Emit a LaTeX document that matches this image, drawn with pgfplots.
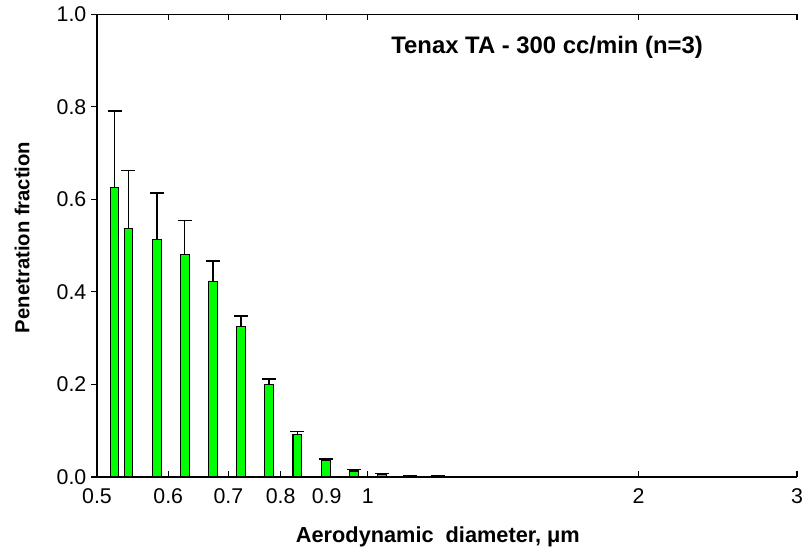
\documentclass[border=0pt]{standalone}
\usepackage{fontspec}
\setmainfont{Liberation Sans}
\usepackage{pgfplots}
\pgfplotsset{compat=1.18}
\begin{document}
\begin{tikzpicture}
% 1px = 0.75pt, page 810x556 px
\useasboundingbox (0,0) rectangle (607.5pt,417pt);
\begin{axis}[
    at={(72.75pt,59.25pt)}, anchor=south west,
    scale only axis, width=525pt, height=347pt,
    xmode=log, xmin=0.5, xmax=3,
    ymin=0, ymax=1,
    axis y line*=left, axis x line*=box,
    xtick={0.5,0.6,0.7,0.8,0.9,1,2,3},
    xticklabels={0.5,0.6,0.7,0.8,0.9,1,2,3},
    minor xtick={},
    ytick={0,0.2,0.4,0.6,0.8,1},
    yticklabel style={/pgf/number format/.cd, fixed, fixed zerofill, precision=1},
    /pgf/number format/assume math mode=true,
    xtick pos=both, ytick pos=left,
    xtick align=inside, ytick align=outside,
    major tick length=4.5pt,
    tick style={black, line width=0.8pt},
    axis line style={black, line width=1pt},
    tick label style={font=\fontsize{16}{18}\selectfont},
    xticklabel style={yshift=-5pt},
    xlabel={Aerodynamic~~diameter, μm},
    ylabel={Penetration fraction},
    x label style={at={(axis description cs:0.487,-0.1296)}, anchor=center,
        font=\bfseries\fontsize{16.3}{18}\selectfont},
    y label style={at={(axis description cs:-0.107,0.518)}, anchor=center,
        font=\bfseries\fontsize{15.2}{18}\selectfont},
    clip=false,
]
\addplot[ybar, bar width=6.5pt, fill=green, draw=black, line width=0.8pt,
    error bars/.cd, y dir=plus, y explicit,
    error bar style={black, line width=1pt},
    error mark options={rotate=90, black, mark size=5.25pt, line width=1pt}]
coordinates {
    (0.523,0.626) +- (0,0.165)
    (0.542,0.538) +- (0,0.124)
    (0.583,0.514) +- (0,0.100)
    (0.626,0.481) +- (0,0.074)
    (0.673,0.422) +- (0,0.045)
    (0.723,0.325) +- (0,0.023)
    (0.777,0.199) +- (0,0.013)
    (0.835,0.092) +- (0,0.007)
    (0.898,0.035) +- (0,0.004)
    (0.965,0.013) +- (0,0.003)
    (1.037,0.005) +- (0,0.002)
    (1.114,0.002) +- (0,0.001)
    (1.197,0.001) +- (0,0.001)
};
\node[font=\bfseries\fontsize{17.9}{20}\selectfont] at (axis description cs:0.643,0.929)
    {Tenax TA - 300 cc/min (n=3)};
\end{axis}
\end{tikzpicture}
\end{document}
